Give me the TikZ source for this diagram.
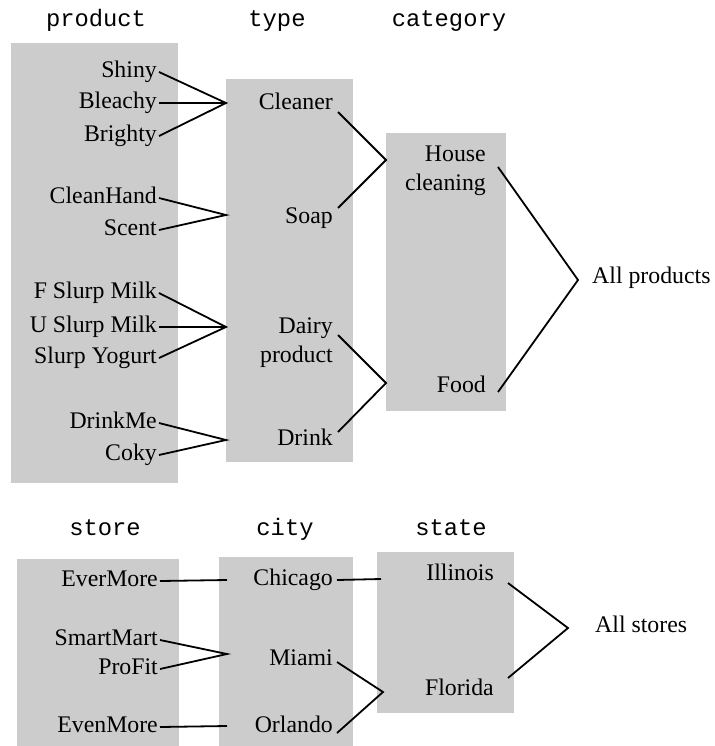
\documentclass[tikz,border=0pt]{standalone}
\usepackage{fontspec}
\setmainfont{Liberation Serif}
\setmonofont{Liberation Mono}
\usepackage{xcolor}
\usepackage{tikz}
\definecolor{boxgray}{RGB}{204,204,204}
\tikzset{
	panel/.style={fill=boxgray},
	item/.style={anchor=east, inner sep=2pt, font=\fontsize{23.8}{28.5}\selectfont, text height=16pt, text depth=5pt},
	twoline/.style={anchor=east, inner sep=2pt, align=right, font=\fontsize{23.8}{28.5}\selectfont},
	toplabel/.style={anchor=west, inner sep=2pt, font=\fontsize{23.8}{28.5}\selectfont, text height=16pt, text depth=5pt},
	level/.style={anchor=base, inner sep=0pt, font=\fontsize{23.8}{28.5}\selectfont\ttfamily},
	link/.style={line width=1.8pt},
}

\begin{document}
\begin{tikzpicture}[x=1pt, y=-1pt]
	\useasboundingbox (0,0) rectangle (714,746);
	
	% grey columns
	\fill[panel] (11,43) rectangle (178,483);
	\fill[panel] (226,79) rectangle (353,462);
	\fill[panel] (386,133) rectangle (506,411);
	\fill[panel] (17,559) rectangle (179,746);
	\fill[panel] (219,557) rectangle (353,746);
	\fill[panel] (377,552) rectangle (514,713);
	
	% column titles
	\node[level] (product) at (96,27) {product};
	\node[level] (type) at (277,27) {type};
	\node[level] (category) at (449,27) {category};
	\node[level] (store) at (105,535) {store};
	\node[level] (city) at (285,535) {city};
	\node[level] (state) at (451,535) {state};
	
	% products
	\node[item] (shiny) at (159,72) {Shiny};
	\node[item] (bleachy) at (159,103) {Bleachy};
	\node[item] (brighty) at (159,136) {Brighty};
	\node[item] (cleanhand) at (159,198) {CleanHand};
	\node[item] (scent) at (159,230) {Scent};
	\node[item] (fslurp) at (159,293) {F Slurp Milk};
	\node[item] (uslurp) at (159,327) {U Slurp Milk};
	\node[item] (yogurt) at (159,358) {Slurp Yogurt};
	\node[item] (drinkme) at (159,423) {DrinkMe};
	\node[item] (coky) at (159,455) {Coky};
	
	% types
	\node[item] (cleaner) at (335,104) {Cleaner};
	\node[item] (soap) at (335,218) {Soap};
	\node[twoline] (dairy) at (335,342.5) {Dairy\\product};
	\node[item] (drink) at (335,440) {Drink};
	
	% categories
	\node[twoline] (house) at (488,171) {House\\cleaning};
	\node[item] (food) at (488,387) {Food};
	\node[toplabel] (allprod) at (590,278) {All products};
	
	% stores, cities, states
	\node[item] (evermore) at (160,581) {EverMore};
	\node[item] (smartmart) at (160,640) {SmartMart};
	\node[item] (profit) at (160,669) {ProFit};
	\node[item] (evenmore) at (160,727) {EvenMore};
	\node[item] (chicago) at (335,580) {Chicago};
	\node[item] (miami) at (335,660) {Miami};
	\node[item] (orlando) at (335,727) {Orlando};
	\node[item] (illinois) at (496,575) {Illinois};
	\node[item] (florida) at (496,690) {Florida};
	\node[toplabel] (allstores) at (593,627) {All stores};
	
	% meeting points
	\coordinate (cleanerJoin) at (226,103);
	\coordinate (soapJoin) at (226,215);
	\coordinate (dairyJoin) at (226,327);
	\coordinate (drinkJoin) at (226,440);
	\coordinate (houseJoin) at (386,160);
	\coordinate (foodJoin) at (386,383);
	\coordinate (allprodJoin) at (578,280);
	\coordinate (chicagoEnd) at (227,580);
	\coordinate (miamiJoin) at (227,654);
	\coordinate (orlandoEnd) at (227,726);
	\coordinate (illinoisEnd) at (381,579);
	\coordinate (floridaJoin) at (383,692);
	\coordinate (allstoresJoin) at (568,628);
	
	\draw[link] (shiny.east) -- (cleanerJoin) -- (brighty.east);
	\draw[link] (bleachy.east) -- (cleanerJoin);
	\draw[link] (cleanhand.east) -- (soapJoin) -- (scent.east);
	\draw[link] (fslurp.east) -- (dairyJoin) -- (yogurt.east);
	\draw[link] (uslurp.east) -- (dairyJoin);
	\draw[link] (drinkme.east) -- (drinkJoin) -- (coky.east);
	
	\draw[link] ([shift={(3,8)}]cleaner.east) -- (houseJoin) -- ([shift={(3,-10)}]soap.east);
	\draw[link] ([shift={(3,-7.5)}]dairy.east) -- (foodJoin) -- ([shift={(3,-8)}]drink.east);
	\draw[link] ([shift={(10,-4)}]house.east) -- (allprodJoin) -- ([shift={(10,5)}]food.east);
	
	\draw[link] (evermore.east) -- (chicagoEnd);
	\draw[link] (smartmart.east) -- (miamiJoin) -- (profit.east);
	\draw[link] (evenmore.east) -- (orlandoEnd);
	\draw[link] ([shift={(2,0)}]chicago.east) -- (illinoisEnd);
	\draw[link] ([shift={(2,2)}]miami.east) -- (floridaJoin) -- ([shift={(2,6)}]orlando.east);
	\draw[link] ([shift={(12,8)}]illinois.east) -- (allstoresJoin) -- ([shift={(12,-12)}]florida.east);
\end{tikzpicture}
\end{document}
